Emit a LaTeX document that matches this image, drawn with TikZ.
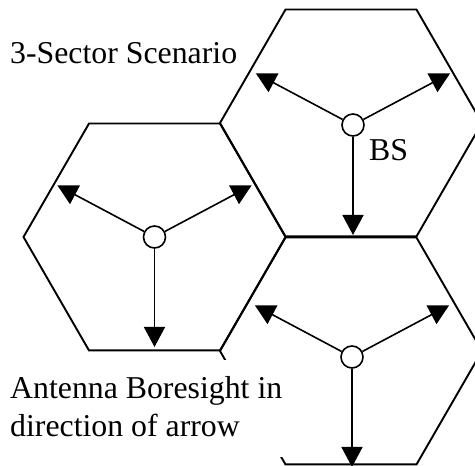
\documentclass[tikz,border=0pt]{standalone}
\usepackage{fontspec}
\setmainfont{Liberation Serif}
\usetikzlibrary{positioning,arrows.meta}

\begin{document}
\begin{tikzpicture}[%
x=1pt,y=1pt,%
cell/.style={line width=1.9pt,line join=miter},%
bs/.style={circle,draw,fill=white,line width=1.6pt,minimum size=22pt,inner sep=0pt},%
boresight/.style={-{Triangle[length=20pt,width=21pt]},line width=1.6pt},%
lbl/.style={font=\fontsize{31.8}{38.5}\selectfont,inner sep=0pt},%
  ]
    \useasboundingbox (0,0) rectangle (475,466);
    \clip (0,0) rectangle (475,466);

    % cell centres
    \coordinate (c1) at (154.5,229);
    \coordinate (c2) at (351,343);
    \coordinate (c3) at (351,115);

    \foreach \c in {c1,c2,c3}
      \draw[cell] (\c) +(0:131) -- +(60:131) -- +(120:131) -- +(180:131)
        -- +(240:131) -- +(300:131) -- cycle;

    % base stations
    \node[bs] (bs1) at (154.5,229) {};
    \node[bs] (bs2) at (353,341) {};
    \node[bs] (bs3) at (352,109) {};

    \foreach \s in {1,2,3}{
      \path (bs\s) ++(152:110) coordinate (bs\s l);
      \path (bs\s) ++(28:110) coordinate (bs\s r);
      \path (bs\s) ++(270:110) coordinate (bs\s d);
      \draw[boresight] (bs\s) -- (bs\s l);
      \draw[boresight] (bs\s) -- (bs\s r);
      \draw[boresight] (bs\s) -- (bs\s d);
    }

    \node[lbl,anchor=base west] (title) at (10,402) {3-Sector Scenario};
    \node[lbl,anchor=base west] (bsname) at (369,305) {BS};
    \node[lbl,anchor=base west,align=left,fill=white,inner xsep=4pt,
      inner ysep=16pt,text depth=4pt] (note) at (6,29)
      {Antenna Boresight in\\direction of arrow};
\end{tikzpicture}
\end{document}
